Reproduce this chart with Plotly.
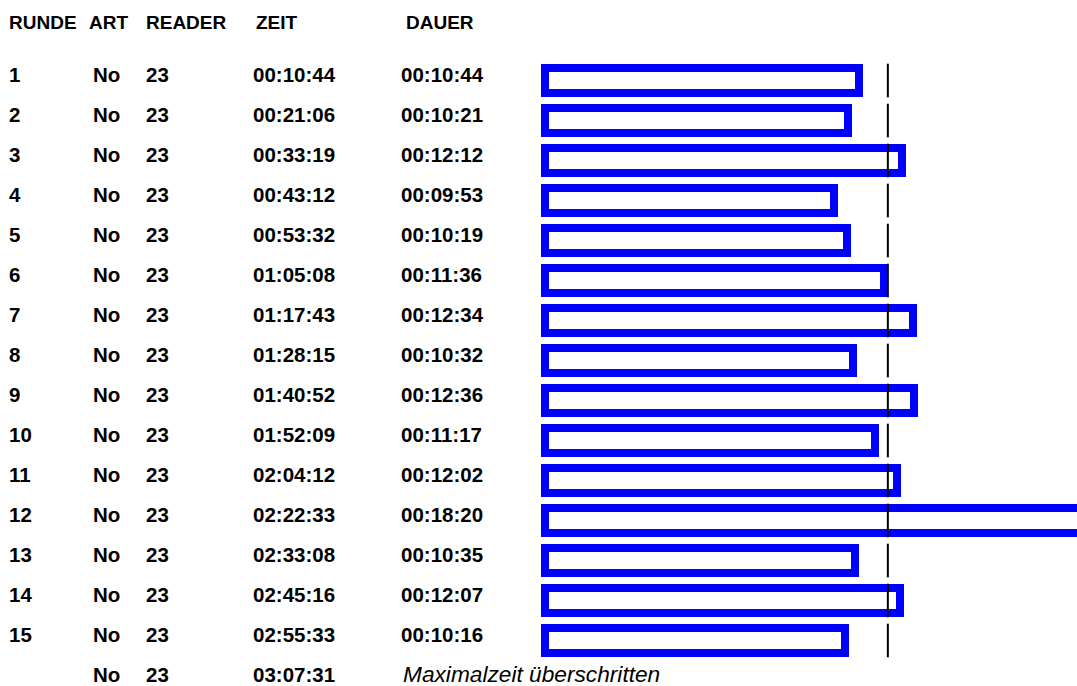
import plotly.graph_objects as go

# ---------------- data ----------------
headers = ["RUNDE", "ART", "READER", "ZEIT", "DAUER"]
runde = [str(i) for i in range(1, 16)] + [""]
art = ["No"] * 16
reader = ["23"] * 16
zeit = ["00:10:44", "00:21:06", "00:33:19", "00:43:12", "00:53:32",
        "01:05:08", "01:17:43", "01:28:15", "01:40:52", "01:52:09",
        "02:04:12", "02:22:33", "02:33:08", "02:45:16", "02:55:33",
        "03:07:31"]
dauer = ["00:10:44", "00:10:21", "00:12:12", "00:09:53", "00:10:19",
         "00:11:36", "00:12:34", "00:10:32", "00:12:36", "00:11:17",
         "00:12:02", "00:18:20", "00:10:35", "00:12:07", "00:10:16"]
last_note = "Maximalzeit überschritten"
ref_seconds = 703  # dashed reference line (seconds)


def to_sec(s):
    h, m, x = (int(v) for v in s.split(":"))
    return h * 3600 + m * 60 + x


dauer_sec = [to_sec(d) for d in dauer]
lap_rows = list(range(1, len(dauer) + 1))

# ---------------- layout geometry ----------------
W, H = 1077, 686
PX_PER_SEC = 0.4877
ORIGIN_PX = 545
DOMAIN_START_PX = 500
ROW_PITCH = 40.0
ROW1_BAR_PX = 80.5

x_range = [(DOMAIN_START_PX - ORIGIN_PX) / PX_PER_SEC, (W - ORIGIN_PX) / PX_PER_SEC]
y0 = (ROW1_BAR_PX - ROW_PITCH)  # pixel of row index 0
y_range = [(H - y0) / ROW_PITCH, (0 - y0) / ROW_PITCH]

BLUE = "#0000FF"
FONT = "Arial, Liberation Sans, sans-serif"

fig = go.Figure()

fig.add_trace(go.Bar(
    x=dauer_sec, y=lap_rows, orientation="h", width=0.61,
    marker=dict(color="white", line=dict(color=BLUE, width=8)),
    hoverinfo="skip", showlegend=False,
))

lx, ly = [], []
for r in lap_rows:
    lx += [ref_seconds, ref_seconds, None]
    ly += [r - 0.42, r + 0.42, None]
fig.add_trace(go.Scatter(
    x=lx, y=ly, mode="lines", line=dict(color="black", width=2),
    hoverinfo="skip", showlegend=False,
))

# ---------------- text table ----------------
col_x_header = [6.5, 86.5, 144, 253.5, 403.5]
col_x_data = [6.5, 90.5, 144, 251, 399]
NOTE_X = 401
TEXT_OFF = -0.16
DATA_SIZE = 20.5
HEAD_SIZE = 19
NOTE_SIZE = 22.7

annotations = []
for h, cx in zip(headers, col_x_header):
    annotations.append(dict(
        text=f"<b>{h}</b>", x=cx / W, xref="paper", y=-0.3 + TEXT_OFF,
        yref="y", xanchor="left", yanchor="middle", showarrow=False,
        font=dict(family=FONT, size=HEAD_SIZE, color="black"),
    ))

for i in range(16):
    row = i + 1
    cells = [runde[i], art[i], reader[i], zeit[i]]
    for c, cx in zip(cells, col_x_data[:4]):
        if c == "":
            continue
        annotations.append(dict(
            text=f"<b>{c}</b>", x=cx / W, xref="paper", y=row + TEXT_OFF,
            yref="y", xanchor="left", yanchor="middle", showarrow=False,
            font=dict(family=FONT, size=DATA_SIZE, color="black"),
        ))
    if i < len(dauer):
        annotations.append(dict(
            text=f"<b>{dauer[i]}</b>", x=col_x_data[4] / W, xref="paper",
            y=row + TEXT_OFF, yref="y", xanchor="left", yanchor="middle",
            showarrow=False, font=dict(family=FONT, size=DATA_SIZE, color="black"),
        ))
    else:
        annotations.append(dict(
            text=f"<i>{last_note}</i>", x=NOTE_X / W, xref="paper",
            y=row + TEXT_OFF, yref="y", xanchor="left", yanchor="middle",
            showarrow=False, font=dict(family=FONT, size=NOTE_SIZE, color="black"),
        ))

fig.update_layout(
    width=W, height=H,
    margin=dict(l=0, r=0, t=0, b=0),
    paper_bgcolor="white", plot_bgcolor="white",
    xaxis=dict(domain=[DOMAIN_START_PX / W, 1], range=x_range, visible=False,
               showgrid=False, zeroline=False, fixedrange=True),
    yaxis=dict(domain=[0, 1], range=y_range, visible=False,
               showgrid=False, zeroline=False, fixedrange=True),
    annotations=annotations,
    bargap=0,
)

fig.write_html(
    "out.html",
    config={"displayModeBar": False},
    post_script="document.body.style.margin='0';document.body.style.overflow='hidden';",
)
